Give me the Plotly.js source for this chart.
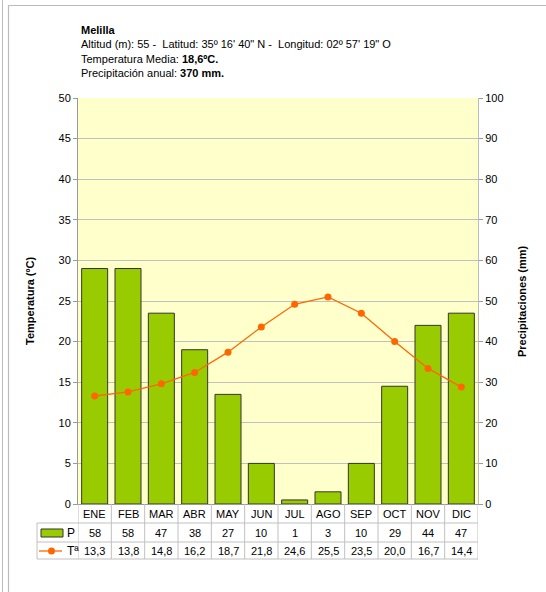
<!DOCTYPE html>
<html>
<head>
<meta charset="utf-8">
<script src="https://cdn.plot.ly/plotly-3.0.1.min.js"></script>
<style>
  html, body { margin: 0; padding: 0; background: #fff; }
  #chart { width: 546px; height: 592px; }
</style>
</head>
<body>
<div id="chart"></div>
<script>
var months = ["ENE", "FEB", "MAR", "ABR", "MAY", "JUN", "JUL", "AGO", "SEP", "OCT", "NOV", "DIC"];
var precip = [58, 58, 47, 38, 27, 10, 1, 3, 10, 29, 44, 47];
var temp = [13.3, 13.8, 14.8, 16.2, 18.7, 21.8, 24.6, 25.5, 23.5, 20.0, 16.7, 14.4];

// plot area in pixels: x 78..478, y 98..504
var L = 78, R = 68, T = 98, B = 88, PW = 400, PH = 406;
function px(x) { return (x - L) / PW; }
function py(y) { return (T + PH - y) / PH; }

var fnt = { family: "Liberation Sans, Arial, sans-serif", size: 11, color: "#000" };
var grid = "#c0c0c0";

var bars = {
  x: months, y: precip, type: "bar", yaxis: "y",
  marker: { color: "#99cc00", line: { color: "#333", width: 1 } },
  width: 0.78, hoverinfo: "x+y"
};
var line = {
  x: months, y: temp, type: "scatter", mode: "lines+markers", yaxis: "y2",
  line: { color: "#ff6600", width: 1.3 },
  marker: { color: "#ff6600", size: 7 }
};

var shapes = [];
var annotations = [];

function label(x, xref, y, text, extra) {
  var a = { xref: xref, yref: "paper", x: x, y: y, text: text, showarrow: false,
            xanchor: "center", yanchor: "middle", font: fnt };
  for (var k in extra) a[k] = extra[k];
  annotations.push(a);
}

// outer frames
shapes.push({ type: "line", xref: "paper", yref: "paper", x0: px(2.5), x1: px(2.5), y0: py(0), y1: py(592), line: { color: "#bbb", width: 1 } });
shapes.push({ type: "rect", xref: "paper", yref: "paper", x0: px(8.5), x1: px(560), y0: py(5.5), y1: py(620), line: { color: "#bbb", width: 1.2 } });

// data table lines
var rowLines = [523, 542, 559];
rowLines.forEach(function (y) {
  shapes.push({ type: "line", xref: "paper", yref: "paper", x0: px(37), x1: 1, y0: py(y), y1: py(y), line: { color: grid, width: 1 } });
});
for (var i = 0; i <= months.length; i++) {
  shapes.push({ type: "line", xref: "x", yref: "paper", x0: i - 0.5, x1: i - 0.5, y0: py(504), y1: py(559), line: { color: grid, width: 1 } });
}
shapes.push({ type: "line", xref: "paper", yref: "paper", x0: px(37), x1: px(37), y0: py(523), y1: py(559), line: { color: grid, width: 1 } });

// legend keys
shapes.push({ type: "rect", xref: "paper", yref: "paper", x0: px(41), x1: px(63), y0: py(537), y1: py(529), fillcolor: "#99cc00", line: { color: "#333", width: 1 } });
shapes.push({ type: "line", xref: "paper", yref: "paper", x0: px(39), x1: px(62), y0: py(551), y1: py(551), line: { color: "#ff6600", width: 1.3 } });
shapes.push({ type: "circle", xref: "paper", yref: "paper", x0: px(48), x1: px(55), y0: py(554.5), y1: py(547.5), fillcolor: "#ff6600", line: { color: "#ff6600", width: 0 } });
label(px(65), "paper", py(532.5), "P", { xanchor: "left", font: { family: fnt.family, size: 12, color: "#000" } });
label(px(65), "paper", py(550.5), "Tª", { xanchor: "left", font: { family: fnt.family, size: 12, color: "#000" } });

// table text
months.forEach(function (m, i) {
  label(m, "x", py(513.5), m);
  label(m, "x", py(532.5), String(precip[i]));
  label(m, "x", py(550.5), temp[i].toFixed(1).replace(".", ","));
});

// header
label(px(79), "paper", py(22),
  "<b>Melilla</b><br>Altitud (m): 55 -  Latitud: 35º 16' 40\" N -  Longitud: 02º 57' 19\" O<br>" +
  "Temperatura Media: <b>18,6ºC.</b><br>Precipitación anual: <b>370 mm.</b>",
  { xanchor: "left", yanchor: "top", align: "left" });

// axis titles
label(px(30), "paper", py(301), "<b>Temperatura (ºC)</b>", { textangle: -90 });
label(px(522), "paper", py(301), "<b>Precipitaciones (mm)</b>", { textangle: -90 });

var layout = {
  width: 546, height: 592,
  margin: { l: L, r: R, t: T, b: B },
  paper_bgcolor: "#fff",
  plot_bgcolor: "#ffffcc",
  showlegend: false,
  font: fnt,
  xaxis: {
    type: "category", range: [-0.5, 11.5], showticklabels: false, ticks: "",
    showgrid: false, showline: true, linecolor: "#999", linewidth: 1, mirror: false, zeroline: false
  },
  yaxis: {
    side: "right", range: [0, 100], dtick: 10, tick0: 0,
    showgrid: true, gridcolor: grid, gridwidth: 1, zeroline: false,
    showline: true, linecolor: "#bbb", ticks: "outside", ticklen: 4, tickcolor: "#999",
    tickfont: fnt
  },
  yaxis2: {
    overlaying: "y", side: "left", range: [0, 50], dtick: 5, tick0: 0,
    showgrid: false, zeroline: false,
    showline: true, linecolor: "#999", ticks: "outside", ticklen: 4, tickcolor: "#999",
    tickfont: fnt
  },
  shapes: shapes,
  annotations: annotations
};

Plotly.newPlot("chart", [bars, line], layout, { displayModeBar: false, staticPlot: true });
</script>
</body>
</html>
